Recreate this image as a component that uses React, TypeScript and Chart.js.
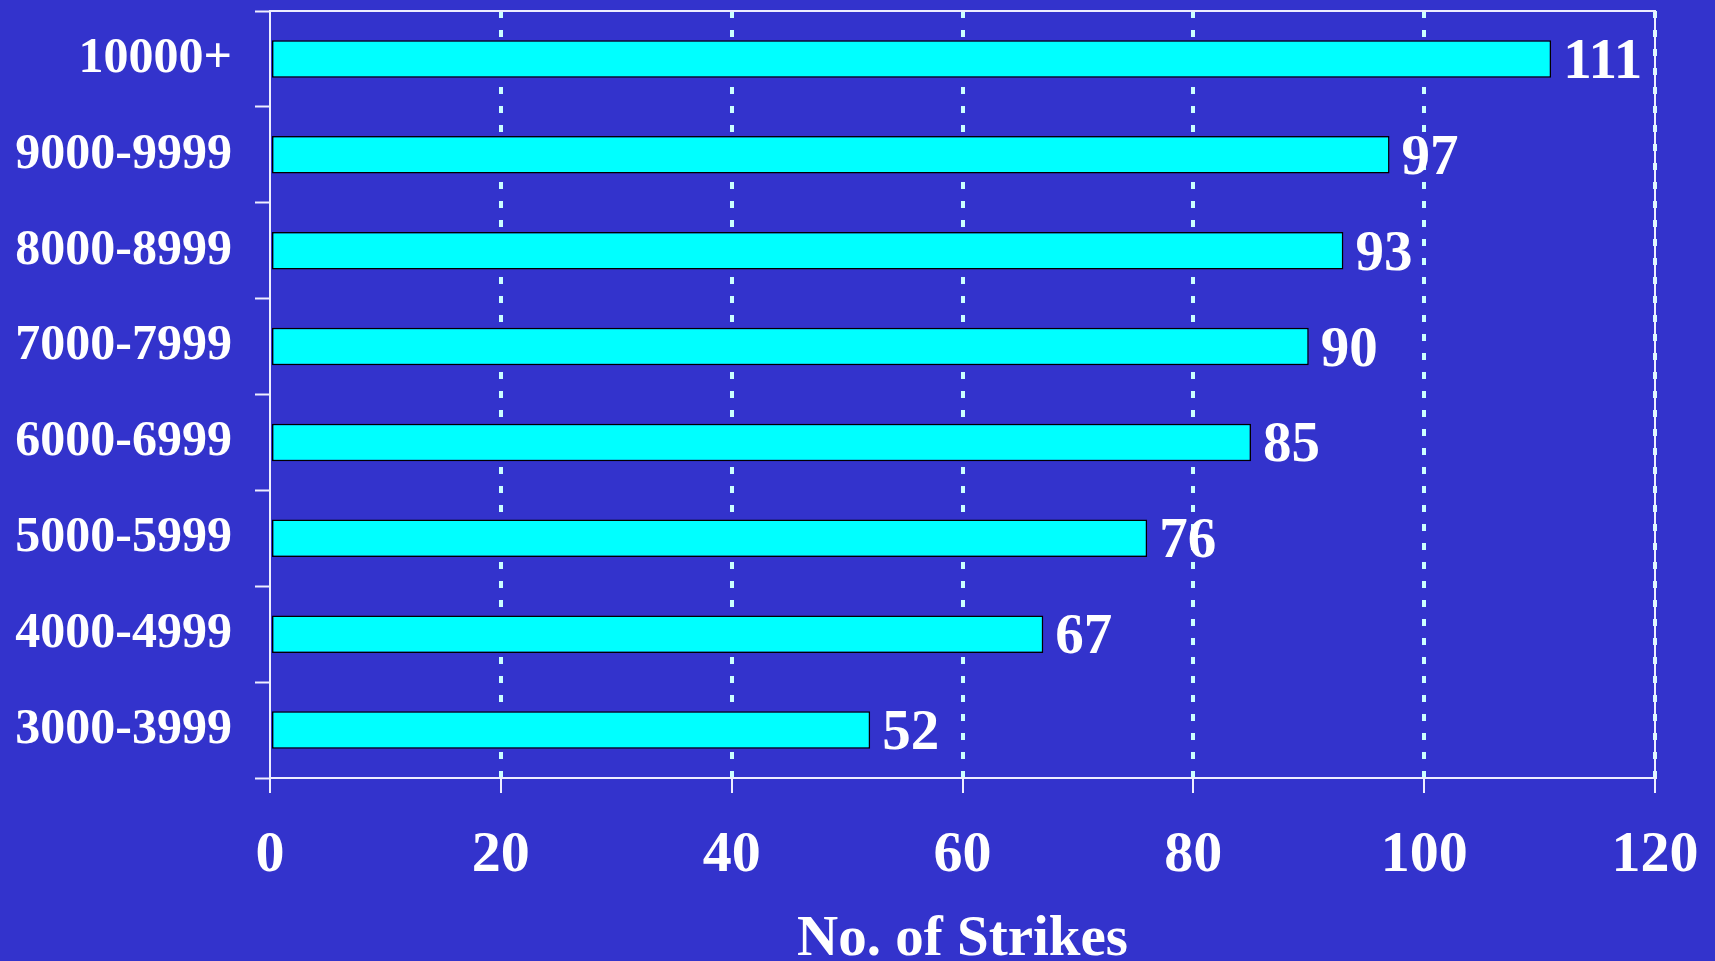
import React, { useEffect, useRef } from "react";
import { Chart, registerables } from "chart.js";

Chart.register(...registerables);

// Wage ranges (top to bottom) and the number of strikes in each
const rangeLabels = [
  "10000+",
  "9000-9999",
  "8000-8999",
  "7000-7999",
  "6000-6999",
  "5000-5999",
  "4000-4999",
  "3000-3999",
];
const strikeCounts = [111, 97, 93, 90, 85, 76, 67, 52];
const xMin = 0;
const xMax = 120;
const xStep = 20;
const axisTitle = "No. of Strikes";

const SERIF = '"Liberation Serif", "Times New Roman", Times, serif';
const BG = "#3333CC";
const WHITE = "#FFFFFF";

// Writes each bar's value just past its end
const valueLabels = {
  id: "valueLabels",
  afterDatasetsDraw(chart: any) {
    const { ctx } = chart;
    const meta = chart.getDatasetMeta(0);
    ctx.save();
    ctx.fillStyle = WHITE;
    ctx.font = `bold 57px ${SERIF}`;
    ctx.textAlign = "left";
    ctx.textBaseline = "alphabetic";
    meta.data.forEach((bar: any, i: number) => {
      ctx.fillText(String(strikeCounts[i]), bar.x + 12, bar.y + 19);
    });
    ctx.restore();
  },
};

export default function App() {
  const canvasRef = useRef<HTMLCanvasElement | null>(null);

  useEffect(() => {
    const canvas = canvasRef.current;
    if (!canvas) return;
    const chart = new Chart(canvas, {
      type: "bar",
      data: {
        labels: rangeLabels,
        datasets: [
          {
            data: strikeCounts,
            backgroundColor: "#00FFFF",
            borderColor: "#000000",
            borderWidth: 1.5,
            borderSkipped: false,
            barPercentage: 0.39,
            categoryPercentage: 1,
          },
        ],
      },
      options: {
        indexAxis: "y",
        responsive: false,
        animation: false,
        events: [],
        layout: { padding: { top: 11, right: 60, left: 0, bottom: 0 } },
        plugins: {
          legend: { display: false },
          tooltip: { enabled: false },
          title: { display: false },
        },
        scales: {
          x: {
            type: "linear",
            position: "bottom",
            min: xMin,
            max: xMax,
            ticks: {
              stepSize: xStep,
              color: WHITE,
              padding: 28,
              maxRotation: 0,
              font: { family: SERIF, size: 58, weight: "bold" },
            },
            grid: {
              color: (c: any) =>
                c.tick && c.tick.value === 0 ? "rgba(0,0,0,0)" : "#CCFFFF",
              lineWidth: 4,
              tickColor: "#EEEEFF",
              tickWidth: 2,
              tickLength: 15,
              tickBorderDash: [],
            },
            border: { display: true, color: "#EEEEFF", width: 2, dash: [7, 12] },
            title: {
              display: true,
              text: axisTitle,
              color: WHITE,
              font: { family: SERIF, size: 57, weight: "bold", lineHeight: 1 },
              padding: { top: 0, bottom: -8 },
            },
            afterFit: (s: any) => {
              s.height = 183;
              s.paddingLeft = 0;
              s.paddingRight = 0;
            },
          },
          xTop: {
            type: "linear",
            position: "top",
            min: xMin,
            max: xMax,
            display: true,
            ticks: { display: false },
            grid: { display: false, drawTicks: false },
            border: { display: true, color: "#EEEEFF", width: 2 },
            afterFit: (s: any) => {
              s.height = 0;
              s.paddingLeft = 0;
              s.paddingRight = 0;
            },
          },
          y: {
            type: "category",
            position: "left",
            offset: true,
            ticks: {
              color: WHITE,
              padding: 23,
              font: { family: SERIF, size: 50, weight: "bold" },
            },
            grid: {
              offset: true,
              drawOnChartArea: false,
              tickColor: "#EEEEFF",
              tickWidth: 2,
              tickLength: 15,
            },
            border: { display: true, color: "#EEEEFF", width: 2 },
            afterFit: (s: any) => {
              s.width = 270;
              s.paddingTop = 0;
              s.paddingBottom = 0;
            },
          },
          yRight: {
            type: "linear",
            position: "right",
            display: true,
            ticks: { display: false },
            grid: { display: false, drawTicks: false },
            border: { display: true, color: "#EEEEFF", width: 2 },
            afterFit: (s: any) => {
              s.width = 0;
              s.paddingTop = 0;
              s.paddingBottom = 0;
            },
          },
        },
      } as any,
      plugins: [valueLabels],
    });
    return () => chart.destroy();
  }, []);

  return (
    <div
      style={{
        position: "absolute",
        left: 0,
        top: 0,
        width: 1715,
        height: 961,
        background: BG,
        overflow: "hidden",
      }}
    >
      <canvas ref={canvasRef} width={1715} height={961} style={{ display: "block" }} />
    </div>
  );
}
